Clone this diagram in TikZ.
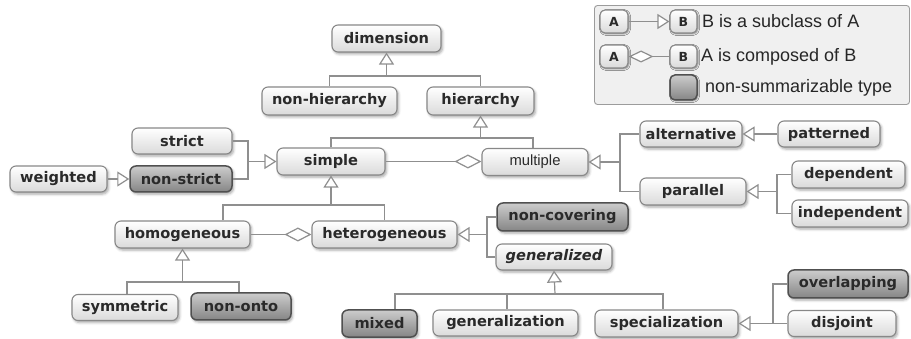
\documentclass[tikz,border=0pt]{standalone}
\usepackage{fontspec}
\setmainfont{DejaVu Sans}
\newfontfamily\arialfont{Liberation Sans}
\usetikzlibrary{arrows.meta,shadows.blur}

\definecolor{boxborder}{HTML}{888888}
\definecolor{boxbot}{HTML}{DADADA}
\definecolor{darkborder}{HTML}{505050}
\definecolor{darktop}{HTML}{CCCCCC}
\definecolor{darkbot}{HTML}{858585}
\definecolor{linkc}{HTML}{8F8F8F}
\definecolor{txt}{HTML}{2A2A2A}
\definecolor{legfill}{HTML}{F0F0F0}
\definecolor{legborder}{HTML}{9C9C9C}

\tikzset{
  box/.style={draw=boxborder, line width=1.1pt, rounded corners=6pt,
    top color=white, bottom color=boxbot, text=txt,
    font=\fontsize{14.6}{16}\selectfont\bfseries,
    minimum height=27pt, inner sep=0pt,
    blur shadow={shadow xshift=1.5pt, shadow yshift=-2pt,
      shadow blur radius=2.5pt, shadow opacity=35}},
  dark/.style={box, draw=darkborder, line width=1.5pt,
    top color=darktop, bottom color=darkbot},
  plain/.style={box, font=\arialfont\fontsize{14.8}{16}\selectfont},
  tiny/.style={box, font=\fontsize{12.5}{13}\selectfont\bfseries,
    rounded corners=5pt, blur shadow={shadow xshift=1pt, shadow yshift=-1pt,
      shadow blur radius=1.5pt, shadow opacity=25}},
  tinydark/.style={tiny, draw=darkborder, line width=1.5pt,
    top color=darktop, bottom color=darkbot},
  legtext/.style={anchor=west, inner sep=0pt, text=black!85,
    font=\arialfont\fontsize{18}{20}\selectfont},
  legframe/.style={draw=legborder, fill=legfill, line width=0.9pt,
    rounded corners=3pt},
  link/.style={draw=linkc, line width=1.2pt, line join=miter},
  sub/.style={link, -{Triangle[length=12pt,width=15pt,fill=white]}},
  comp/.style={link, -{Diamond[length=27pt,width=14pt,fill=white]}},
}

\begin{document}
\begin{tikzpicture}[x=1pt,y=-1pt]
\useasboundingbox (0,0) rectangle (911,339);

% legend frame
\node[legframe, minimum width=315pt, minimum height=99pt] (legend) at (752,55) {};

% class nodes
\node[box, minimum width=109pt] (dimension) at (386.5,38.5) {dimension};
\node[box, minimum width=135pt, minimum height=28pt] (nonhier) at (329.5,101) {non-hierarchy};
\node[box, minimum width=107pt, minimum height=28pt] (hier) at (480.5,101) {hierarchy};

\node[box, minimum width=100pt, minimum height=26pt] (strict) at (182,141) {strict};
\node[dark, minimum width=102pt, minimum height=26pt] (nonstrict) at (181,179) {non-strict};
\node[box, minimum width=97pt, minimum height=26pt] (weighted) at (58.5,179) {weighted};
\node[box, minimum width=108pt] (simple) at (331,161.5) {simple};
\node[plain, minimum width=106pt] (multiple) at (535,162) {multiple};

\node[box, minimum width=102pt, minimum height=26pt] (alternative) at (691,134) {alternative};
\node[box, minimum width=102pt, minimum height=26pt] (patterned) at (829,134) {patterned};
\node[box, minimum width=106pt] (parallel) at (693,191.5) {parallel};
\node[box, minimum width=113pt] (dependent) at (848.5,174.5) {dependent};
\node[box, minimum width=116pt] (independent) at (850,213.5) {independent};

\node[box, minimum width=135pt] (homogeneous) at (182.5,234.5) {homogeneous};
\node[box, minimum width=145pt] (heterogeneous) at (384.5,234.5) {heterogeneous};
\node[dark, minimum width=131pt, minimum height=28pt] (noncovering) at (562.5,217) {non-covering};
\node[box, minimum width=116pt, minimum height=26pt] (generalized) at (554,257) {\itshape generalized};

\node[box, minimum width=106pt, minimum height=26pt] (symmetric) at (125,307.5) {symmetric};
\node[dark, minimum width=100pt] (nononto) at (241,306.5) {non-onto};

\node[dark, minimum width=75pt] (mixed) at (379.5,323.5) {mixed};
\node[box, minimum width=145pt, minimum height=26pt] (generalization) at (505.5,323) {generalization};
\node[box, minimum width=143pt] (specialization) at (666.5,323.5) {specialization};
\node[dark, minimum width=120pt, minimum height=28pt] (overlapping) at (848,284) {overlapping};
\node[box, minimum width=108pt, minimum height=26pt] (disjoint) at (842,323.5) {disjoint};

% junction points of the connector trees
\coordinate (j1) at (386.5,76);
\coordinate (j2) at (480.5,138);
\coordinate (j3) at (248,161.5);
\coordinate (j4) at (620,162);
\coordinate (j5) at (777,191.5);
\coordinate (j6) at (331,205);
\coordinate (j7) at (487,234.5);
\coordinate (j8) at (182.5,282);
\coordinate (j9) at (555,294);
\coordinate (j10) at (773,323.5);

% subclass connectors
\draw[link] (nonhier.north) |- (j1) -| (hier.north);
\draw[sub] (j1) -- (dimension.south);

\draw[link] (simple.north) |- (j2) -| ([xshift=-2pt]multiple.north);
\draw[sub] (j2) -- (hier.south);

\draw[link] (strict.east) -| (j3);
\draw[link] (nonstrict.east) -| (j3);
\draw[sub] (j3) -- (simple.west);

\draw[sub] (weighted.east) -- (nonstrict.west);

\draw[link] (alternative.west) -| (j4);
\draw[link] (parallel.west) -| (j4);
\draw[sub] (j4) -- (multiple.east);

\draw[sub] (patterned.west) -- (alternative.east);

\draw[link] (dependent.west) -| (j5);
\draw[link] (independent.west) -| (j5);
\draw[sub] (j5) -- (parallel.east);

\draw[link] ([xshift=40.5pt]homogeneous.north) |- (j6) -| (heterogeneous.north);
\draw[sub] (j6) -- (simple.south);

\draw[link] (noncovering.west) -| (j7);
\draw[link] (generalized.west) -| (j7);
\draw[sub] (j7) -- (heterogeneous.east);

\draw[link] ([xshift=2pt]symmetric.north) |- (j8) -| ([xshift=-2pt]nononto.north);
\draw[sub] (j8) -- (homogeneous.south);

\draw[link] ([xshift=15.5pt]mixed.north) |- (j9) -| ([xshift=-3.5pt]specialization.north);
\draw[link] ([xshift=1.5pt]generalization.north) -- ([xshift=1.5pt]generalization.north |- j9);
\draw[sub] (j9) -- (generalized.south);

\draw[link] (overlapping.west) -| (j10);
\draw[link] (disjoint.west) -| (j10);
\draw[sub] (j10) -- (specialization.east);

% composition connectors
\draw[comp] (simple.east) -- (simple.east -| multiple.west);
\draw[comp] (homogeneous.east) -- (heterogeneous.west);

% legend content
\node[tiny, minimum width=28pt, minimum height=23pt] (la1) at (614,21.5) {A};
\node[tiny, minimum width=27pt, minimum height=23pt] (lb1) at (683.5,21.5) {B};
\draw[sub] (la1.east) -- (lb1.west);
\node[legtext] (t1) at (702,21.5) {B is a subclass of A};

\node[tiny, minimum width=28pt, minimum height=23pt] (la2) at (614,56.5) {A};
\node[tiny, minimum width=27pt, minimum height=23pt] (lb2) at (683.5,56.5) {B};
\draw[link, -{Diamond[length=25pt,width=12pt,fill=white]}] (lb2.west) -- (la2.east);
\node[legtext] (t2) at (701,56.5) {A is composed of B};

\node[tinydark, minimum width=27pt, minimum height=25pt] (lc) at (683.5,87.5) {};
\node[legtext] (t3) at (705,88) {non-summarizable type};
\end{tikzpicture}
\end{document}
